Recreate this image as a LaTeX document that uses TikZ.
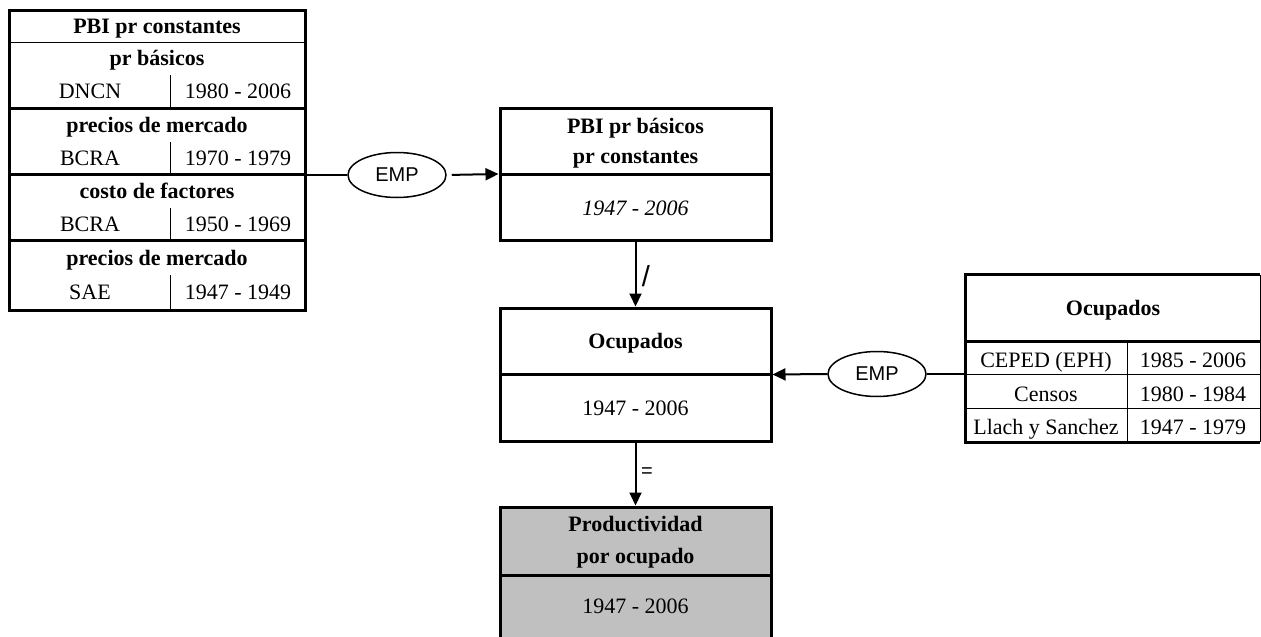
\documentclass[tikz,border=0pt]{standalone}
\usepackage{fontspec}
\setmainfont{Liberation Serif}
\newfontfamily\sansf{Liberation Sans}
\usetikzlibrary{arrows.meta,shapes.geometric}
\definecolor{prodgray}{HTML}{C0C0C0}
\begin{document}
\begin{tikzpicture}[x=1pt,y=-1pt,
  txt/.style={inner sep=0pt, anchor=base, font=\fontsize{22}{25}\selectfont},
  btxt/.style={inner sep=0pt, anchor=base, font=\fontsize{22}{25}\selectfont\bfseries},
  itxt/.style={inner sep=0pt, anchor=base, font=\fontsize{22}{25}\selectfont\itshape},
  thickline/.style={line width=3pt},
  thinline/.style={line width=1pt},
  boxnode/.style={draw, line width=3pt, inner sep=0pt, minimum width=271pt},
  empnode/.style={draw, ellipse, line width=1.5pt, minimum width=98pt, minimum height=45pt, inner sep=0pt, font=\sansf\fontsize{20}{24}\selectfont},
  conn/.style={line width=2pt, -{Triangle[length=13pt,width=12pt]}},
  plainconn/.style={line width=2pt},
  lbl/.style={inner sep=0pt, font=\sansf\fontsize{20}{24}\selectfont}
]
\useasboundingbox (0,0) rectangle (1261,637);

% left table
\node[boxnode, minimum width=296pt, minimum height=300pt] (pbitab) at (157,160) {};
\draw[thinline] (9,42) -- (305,42);
\draw[thickline] (9,108) -- (305,108);
\draw[thickline] (9,174) -- (305,174);
\draw[thickline] (9,240) -- (305,240);
\draw[thinline] (170,75) -- (170,108);
\draw[thinline] (170,142) -- (170,174);
\draw[thinline] (170,208) -- (170,240);
\draw[thinline] (170,275) -- (170,310);
\node[btxt] (t1) at (157,33) {PBI pr constantes};
\node[btxt] (t2) at (157,65) {pr básicos};
\node[txt] (t3) at (90,98) {DNCN};
\node[txt] (t4) at (238,98) {1980 - 2006};
\node[btxt] (t5) at (157,132) {precios de mercado};
\node[txt] (t6) at (90,165) {BCRA};
\node[txt] (t7) at (238,165) {1970 - 1979};
\node[btxt] (t8) at (157,198) {costo de factores};
\node[txt] (t9) at (90,231) {BCRA};
\node[txt] (t10) at (238,231) {1950 - 1969};
\node[btxt] (t11) at (157,265) {precios de mercado};
\node[txt] (t12) at (90,299) {SAE};
\node[txt] (t13) at (238,299) {1947 - 1949};

% EMP 1 and PBI box
\node[empnode] (emp1) at (397,175) {EMP};
\draw[plainconn] (emp1.west) -- (emp1.west -| pbitab.east);
\node[boxnode, minimum height=132pt] (pbi) at (635.5,174) {};
\draw[thickline] (pbi.west) -- (pbi.east);
\draw[conn, shorten <=5pt] (emp1.east) -- (pbi.west);
\node[btxt] (p1) at (635.5,133) {PBI pr básicos};
\node[btxt] (p2) at (635.5,163) {pr constantes};
\node[itxt] (p3) at (635.5,215) {1947 - 2006};

% Ocupados box
\node[boxnode, minimum height=133pt] (ocu) at (635.5,374.5) {};
\draw[thickline] (ocu.west) -- (ocu.east);
\node[btxt] (o1) at (635.5,348) {Ocupados};
\node[txt] (o2) at (635.5,415) {1947 - 2006};
\draw[conn] (pbi.south) -- (ocu.north);
\node[lbl, font=\sansf\fontsize{29}{32}\selectfont] (slash) at (646,276) {/};

% Productividad box
\node[boxnode, fill=prodgray, minimum height=140pt] (prod) at (635.5,577) {};
\draw[thickline] (500,575) -- (771,575);
\node[btxt] (r1) at (635.5,531) {Productividad};
\node[btxt] (r2) at (635.5,563) {por ocupado};
\node[txt] (r3) at (635.5,613) {1947 - 2006};
\draw[conn] (ocu.south) -- (prod.north);
\node[lbl] (eq) at (647,473) {=};

% right table
\node[inner sep=0pt, minimum width=294pt, minimum height=167pt] (ocutab) at (1113,358.5) {};
\draw[thickline] (ocutab.north east) -- (ocutab.north west) -- (ocutab.south west) -- (ocutab.south east);
\draw[thinline] (ocutab.north east) -- (ocutab.south east);
\draw[thickline] (966,341) -- (1260,341);
\draw[thinline] (966,374) -- (1260,374);
\draw[thinline] (966,408) -- (1260,408);
\draw[thinline] (1127,341) -- (1127,442);
\node[btxt] (q1) at (1113,315) {Ocupados};
\node[txt] (q2) at (1046,367) {CEPED (EPH)};
\node[txt] (q3) at (1193,367) {1985 - 2006};
\node[txt] (q4) at (1046,401) {Censos};
\node[txt] (q5) at (1193,401) {1980 - 1984};
\node[txt] (q6) at (1046,434) {Llach y Sanchez};
\node[txt] (q7) at (1193,434) {1947 - 1979};

% EMP 2
\node[empnode] (emp2) at (877,374) {EMP};
\draw[plainconn] (emp2.east) -- (emp2.east -| ocutab.west);
\draw[conn] (emp2.west) -- (ocu.east);
\end{tikzpicture}
\end{document}
